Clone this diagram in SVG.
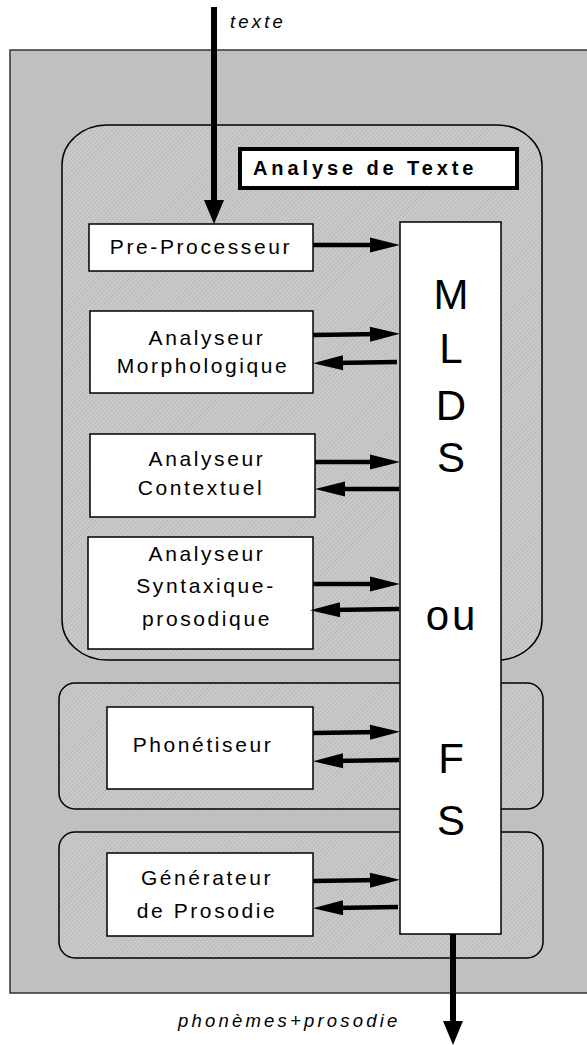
<svg xmlns="http://www.w3.org/2000/svg" width="587" height="1045" viewBox="0 0 587 1045">
<style>
.lbl{font-family:"Liberation Sans",Arial,sans-serif;font-size:21px;letter-spacing:2.6px;fill:#000;text-anchor:middle}
.big{font-family:"Liberation Sans",Arial,sans-serif;font-size:42px;fill:#000;text-anchor:middle}
.it{font-family:"Liberation Sans",Arial,sans-serif;font-size:18.5px;font-style:italic;letter-spacing:3.2px;fill:#000}
.title{font-family:"Liberation Sans",Arial,sans-serif;font-size:20px;font-weight:bold;letter-spacing:3.9px;fill:#000}
.box{fill:#fff;stroke:#000;stroke-width:1.5}
.region{fill:url(#hatch);stroke:#000;stroke-width:1.5}
.arr{stroke:#000;stroke-width:4.5;fill:none;marker-end:url(#head)}
.arrBig{stroke:#000;stroke-width:6;fill:none;marker-end:url(#headBig)}
</style>
<defs>
<pattern id="hatch" patternUnits="userSpaceOnUse" width="3" height="3" patternTransform="rotate(45)">
<rect width="3" height="3" fill="#cbcbcb"/>
<line x1="0" y1="0" x2="0" y2="3" stroke="#a6a6a6" stroke-width="1"/>
</pattern>
<marker id="head" markerUnits="userSpaceOnUse" markerWidth="30" markerHeight="16" refX="10" refY="7.5" orient="auto" overflow="visible">
<path d="M0,0 L30,7.5 L0,15 z" fill="#000"/>
</marker>
<marker id="headBig" markerUnits="userSpaceOnUse" markerWidth="24" markerHeight="20" refX="8" refY="10" orient="auto" overflow="visible">
<path d="M0,0 L24,10 L0,20 z" fill="#000"/>
</marker>
</defs>

<g id="outer">
<rect x="10" y="50" width="590" height="943" fill="#c0c0c0" stroke="#333" stroke-width="1.5"/>
</g>

<g id="region-analyse">
<rect class="region" x="62" y="125" width="480" height="535" rx="45" ry="40"/>
</g>
<g id="region-phonetiseur">
<rect class="region" x="59" y="683" width="484" height="126" rx="16" ry="16"/>
</g>
<g id="region-prosodie">
<rect class="region" x="59" y="832" width="484" height="126" rx="16" ry="16"/>
</g>

<g id="title-analyse">
<rect x="240" y="149" width="277" height="39" fill="#fff" stroke="#000" stroke-width="4"/>
<text class="title" x="253" y="175">Analyse de Texte</text>
</g>

<g id="preprocesseur">
<rect class="box" x="89" y="224" width="224" height="47"/>
<text class="lbl" x="201" y="254">Pre-Processeur</text>
</g>

<g id="morphologique">
<rect class="box" x="90" y="311" width="223" height="82"/>
<text class="lbl" x="207" y="345">Analyseur</text>
<text class="lbl" x="203" y="373">Morphologique</text>
</g>

<g id="contextuel">
<rect class="box" x="90" y="434" width="225" height="83"/>
<text class="lbl" x="207" y="466">Analyseur</text>
<text class="lbl" x="201" y="495">Contextuel</text>
</g>

<g id="syntaxique">
<rect class="box" x="88" y="537" width="225" height="112"/>
<text class="lbl" x="207" y="561">Analyseur</text>
<text class="lbl" x="206" y="593">Syntaxique-</text>
<text class="lbl" x="207" y="626">prosodique</text>
</g>

<g id="phonetiseur">
<rect class="box" x="107" y="707" width="206" height="82"/>
<text class="lbl" x="203" y="752">Phonétiseur</text>
</g>

<g id="generateur">
<rect class="box" x="107" y="853" width="206" height="83"/>
<text class="lbl" x="207" y="885">Générateur</text>
<text class="lbl" x="207" y="918">de Prosodie</text>
</g>

<g id="mlds">
<rect class="box" x="400" y="222" width="101" height="712"/>
<text class="big" x="451" y="309">M</text>
<text class="big" x="451" y="363">L</text>
<text class="big" x="451" y="420">D</text>
<text class="big" x="451" y="472">S</text>
<text class="big" x="452" y="630" letter-spacing="3">ou</text>
<text class="big" x="451" y="773">F</text>
<text class="big" x="451" y="835">S</text>
</g>

<g id="connectors">
<line class="arrBig" x1="214" y1="7" x2="214" y2="208"/>
<line class="arrBig" x1="453" y1="934" x2="453" y2="1029"/>
<line class="arr" x1="313" y1="245" x2="380" y2="245"/>
<line class="arr" x1="313" y1="335" x2="380" y2="334"/>
<line class="arr" x1="397" y1="362" x2="333" y2="363"/>
<line class="arr" x1="315" y1="462" x2="380" y2="462"/>
<line class="arr" x1="399" y1="489" x2="335" y2="489"/>
<line class="arr" x1="313" y1="584" x2="380" y2="584"/>
<line class="arr" x1="399" y1="609" x2="330" y2="610"/>
<line class="arr" x1="313" y1="733" x2="380" y2="732"/>
<line class="arr" x1="399" y1="760" x2="333" y2="761"/>
<line class="arr" x1="313" y1="881" x2="380" y2="880"/>
<line class="arr" x1="398" y1="907" x2="333" y2="908"/>
</g>

<g id="labels">
<text class="it" x="230" y="28">texte</text>
<text class="it" x="178" y="1027">phonèmes+prosodie</text>
</g>
</svg>
